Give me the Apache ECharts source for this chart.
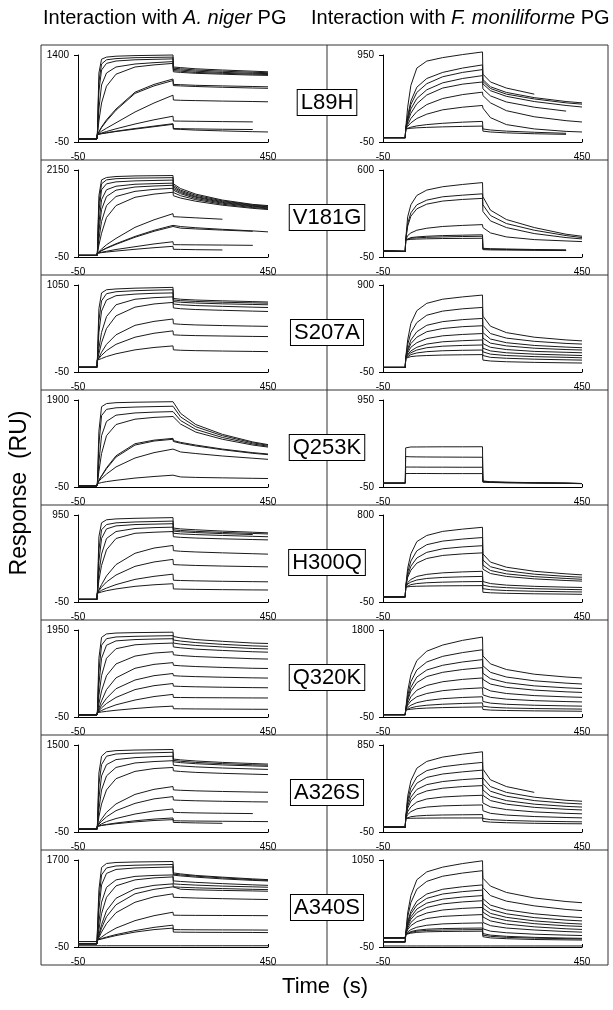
<!DOCTYPE html>
<html>
<head>
<meta charset="utf-8">
<script src="https://cdn.jsdelivr.net/npm/echarts@6/dist/echarts.min.js"></script>
<style>
  html, body { margin: 0; padding: 0; background: #fff; }
  #chart { width: 613px; height: 1010px; }
</style>
</head>
<body>
<div id="chart"></div>
<script>
// sample times (s) for each column; the right column injects a few seconds later
const T_NIGER = [-50, 0, 1, 5, 12, 25, 50, 100, 150, 200, 201, 220, 260, 330, 410, 450];
const T_MONIL = [-50, 6, 7, 12, 20, 35, 60, 100, 150, 200, 201, 220, 260, 330, 410, 450];

const mutants = ['L89H', 'V181G', 'S207A', 'Q253K', 'H300Q', 'Q320K', 'A326S', 'A340S'];
const nigerMax = [1400, 2150, 1050, 1900, 950, 1950, 1500, 1700];
const monilMax = [950, 600, 900, 950, 800, 1800, 850, 1050];

// response (RU) at the times above, one row per curve
const L89H_niger = [
  [0,0,75,1100,1330,1365,1380,1390,1395,1400,1200,1190,1170,1150,1130,1120],
  [0,0,75,950,1250,1320,1340,1355,1360,1365,1180,1170,1150,1130,1112,1105],
  [0,0,75,800,1150,1260,1300,1320,1328,1335,1160,1150,1130,1110,1095,1090],
  [0,0,75,500,900,1100,1200,1250,1272,1290,1140,1130,1110,1095,1080,1075],
  [0,0,75,300,600,880,1080,1200,1235,1260,1120,1110,1095,1080,1065,1060],
  [0,0,75,120,200,320,500,780,910,1000,910,905,895,885,875,870],
  [0,0,75,115,190,300,480,760,885,975,890,885,875,862,850,845],
  [0,0,75,100,130,180,270,450,600,730,650,645,640,632,625,620],
  [0,0,75,85,100,125,170,250,320,380,300,298,295,290,285,null],
  [0,0,75,80,90,105,130,175,215,255,175,172,168,162,158,null],
  [0,0,75,80,88,100,125,165,205,245,165,160,148,135,122,117]
];
const L89H_monil = [
  [0,0,100,350,600,800,880,920,955,985,730,640,570,500,null,null],
  [0,0,100,250,420,580,680,750,800,836,668,585,520,460,415,400],
  [0,0,100,220,380,520,620,700,750,782,645,565,500,445,400,385],
  [0,0,100,200,330,450,550,630,680,713,618,540,475,415,370,352],
  [0,0,100,180,280,390,490,570,615,640,561,480,410,350,305,null],
  [0,0,100,150,220,300,380,450,495,523,484,400,310,240,195,180],
  [0,0,100,130,170,220,270,320,350,370,340,230,150,100,72,65],
  [0,0,100,110,120,135,150,165,178,187,100,88,75,62,50,null],
  [0,0,100,105,108,113,118,124,129,133,75,65,55,45,38,null]
];
const V181G_niger = [
  [-10,-10,45,1500,1900,1960,1985,2000,2005,2010,1800,1680,1540,1390,1280,1250],
  [-10,-10,45,1300,1800,1900,1930,1945,1950,1957,1760,1640,1510,1370,1265,1235],
  [-10,-10,45,1100,1650,1800,1850,1875,1885,1895,1720,1610,1480,1350,1250,1220],
  [-10,-10,45,800,1400,1650,1740,1790,1805,1818,1680,1580,1460,1330,1235,1205],
  [-10,-10,45,600,1150,1480,1640,1720,1745,1764,1640,1550,1430,1310,1220,1190],
  [-10,-10,45,400,850,1250,1480,1610,1660,1687,1580,1500,1400,1285,1200,1170],
  [-10,-10,45,250,550,950,1250,1460,1540,1587,1500,1440,1360,1260,1180,1150],
  [-10,-10,45,90,150,260,420,700,890,1046,970,960,940,905,null,null],
  [-10,-10,45,70,110,170,270,450,600,722,690,680,660,630,600,null],
  [-10,-10,45,72,115,180,285,470,625,750,740,720,690,650,610,585],
  [-10,-10,45,55,70,95,140,210,280,336,262,260,257,252,245,null],
  [-10,-10,45,50,60,75,100,145,185,220,145,142,135,128,null,null]
];
const V181G_monil = [
  [-5,-8,77,250,340,410,450,475,492,506,400,300,230,170,120,105],
  [-5,-8,77,200,280,340,375,400,412,422,340,260,200,150,110,95],
  [-5,-8,77,180,255,310,345,368,380,388,290,220,170,125,95,85],
  [-5,-8,77,110,130,150,165,178,186,192,170,130,100,80,70,65],
  [-5,-8,77,90,95,100,105,110,113,116,15,12,10,6,3,null],
  [-5,-8,77,85,90,93,97,100,103,105,10,8,6,3,0,null],
  [-5,-8,77,80,82,84,86,88,89,90,5,3,2,0,-2,null]
];
const S207A_niger = [
  [10,10,100,750,950,990,1000,1010,1015,1020,880,870,860,850,840,835],
  [10,10,100,600,850,940,965,978,985,990,860,852,842,832,824,820],
  [10,10,100,450,720,860,915,935,945,950,840,832,822,812,804,800],
  [10,10,100,250,450,650,800,870,890,900,810,800,790,780,770,765],
  [10,10,100,180,320,500,660,770,810,830,760,750,740,730,720,715],
  [10,10,100,130,200,300,420,540,590,620,560,553,545,537,530,527],
  [10,10,100,120,160,220,300,390,440,470,420,415,410,405,400,398],
  [10,10,100,105,120,145,180,230,260,280,230,225,220,215,210,208]
];
const S207A_monil = [
  [0,0,100,300,480,620,700,745,770,790,560,450,380,330,300,290],
  [0,0,100,250,380,490,570,615,640,655,460,370,320,285,262,255],
  [0,0,100,200,300,390,460,500,522,535,380,310,270,240,222,215],
  [0,0,100,180,260,330,390,425,445,455,320,265,235,210,195,190],
  [0,0,100,160,220,270,315,345,360,370,260,220,195,175,165,160],
  [0,0,100,140,180,220,255,280,292,300,210,180,160,145,135,130],
  [0,0,100,130,160,190,215,232,240,245,170,145,130,118,110,105],
  [0,0,100,120,140,158,172,182,187,190,130,110,100,90,83,80],
  [0,0,100,110,118,125,130,135,138,140,80,70,62,55,50,48]
];
const Q253K_niger = [
  [-25,-25,25,1200,1750,1820,1840,1850,1856,1862,1830,1600,1350,1130,960,900],
  [-25,-25,25,900,1550,1690,1725,1742,1752,1760,1730,1520,1300,1100,940,885],
  [-25,-25,25,500,1100,1420,1560,1610,1628,1640,1620,1440,1240,1060,915,865],
  [-25,-25,25,300,700,1100,1350,1470,1510,1530,1510,1360,1180,1020,890,845],
  [-25,-25,25,100,200,380,650,920,1000,1040,990,950,890,800,720,690],
  [-25,-25,25,95,190,360,620,890,980,1020,970,930,870,785,705,675],
  [-25,-25,25,80,140,240,400,600,720,800,760,735,700,645,595,570],
  [-25,-25,25,35,50,70,100,150,185,215,180,175,165,155,145,140]
];
const Q253K_monil = [
  [-5,-5,400,408,410,410,411,412,412,413,20,10,5,0,-5,-10],
  [-5,-5,300,298,297,296,295,294,293,292,15,8,3,-2,-6,-10],
  [-5,-5,180,180,179,179,178,178,177,177,10,5,0,-3,-7,-10],
  [-5,-5,105,105,105,105,105,104,104,104,5,2,-2,-5,-8,-12]
];
const H300Q_niger = [
  [-20,-20,50,700,860,895,905,912,916,920,800,790,780,765,752,745],
  [-20,-20,50,550,780,840,860,870,875,880,780,772,762,750,738,732],
  [-20,-20,50,420,680,790,825,840,845,850,765,757,748,736,725,null],
  [-20,-20,50,280,500,680,760,795,805,810,740,733,725,715,705,700],
  [-20,-20,50,200,370,550,680,740,752,760,700,693,685,676,668,664],
  [-20,-20,50,90,150,250,380,510,570,600,540,533,525,515,505,500],
  [-20,-20,50,80,120,180,260,360,410,440,380,376,370,363,357,354],
  [-20,-20,50,65,85,110,150,210,245,270,200,197,193,188,184,182],
  [-20,-20,50,55,65,80,100,130,148,160,100,98,95,92,89,88]
];
const H300Q_monil = [
  [0,0,95,280,420,540,600,640,662,680,420,340,290,250,225,215],
  [0,0,95,240,350,450,510,545,565,580,360,295,255,222,200,192],
  [0,0,95,210,300,380,435,470,488,500,310,258,225,198,180,172],
  [0,0,95,190,260,330,375,405,420,430,270,228,200,176,160,154],
  [0,0,95,140,170,200,220,235,244,250,150,130,115,103,95,92],
  [0,0,95,125,145,165,180,190,196,200,115,100,90,80,73,70],
  [0,0,95,110,120,130,138,144,148,150,80,70,62,55,50,48],
  [0,0,95,100,102,104,106,108,109,110,45,40,35,30,27,25]
];
const Q320K_niger = [
  [0,0,50,1300,1780,1860,1880,1890,1895,1900,1800,1770,1730,1690,1650,1640],
  [0,0,50,1000,1600,1750,1790,1805,1813,1820,1720,1695,1660,1620,1585,1575],
  [0,0,50,700,1300,1600,1700,1730,1742,1750,1650,1625,1595,1560,1525,1515],
  [0,0,50,450,900,1300,1520,1610,1635,1650,1560,1540,1510,1480,1450,1440],
  [0,0,50,250,550,900,1170,1350,1420,1450,1380,1362,1340,1315,1290,1282],
  [0,0,50,150,320,580,850,1070,1160,1200,1140,1127,1110,1090,1070,1065],
  [0,0,50,110,220,380,600,800,900,950,900,890,878,864,850,845],
  [0,0,50,90,160,260,400,580,670,720,660,653,644,634,625,622],
  [0,0,50,70,100,150,230,340,420,470,400,398,395,392,388,387],
  [0,0,50,55,65,80,105,145,178,200,140,138,135,132,128,127]
];
const Q320K_monil = [
  [0,0,100,500,850,1150,1350,1480,1580,1650,1250,1080,960,860,800,780],
  [0,0,100,400,700,950,1120,1240,1320,1380,1040,900,800,720,670,652],
  [0,0,100,340,580,800,950,1050,1120,1170,880,765,680,612,570,555],
  [0,0,100,300,500,680,810,900,960,1000,750,650,580,522,485,472],
  [0,0,100,240,380,520,620,700,750,780,580,505,450,405,378,368],
  [0,0,100,200,290,380,450,510,548,570,420,368,330,298,278,270],
  [0,0,100,150,200,255,300,340,365,380,280,245,220,200,186,181],
  [0,0,100,120,145,175,200,222,238,250,180,158,142,130,122,118],
  [0,0,100,105,115,128,140,150,158,165,110,97,88,80,75,72]
];
const A326S_niger = [
  [0,0,50,1000,1300,1380,1400,1410,1415,1420,1250,1235,1215,1190,1170,1160],
  [0,0,50,800,1150,1300,1340,1355,1362,1370,1225,1210,1190,1168,1148,1140],
  [0,0,50,550,950,1150,1240,1275,1290,1300,1200,1186,1167,1145,1127,1120],
  [0,0,50,350,700,950,1100,1180,1205,1220,1140,1127,1110,1090,1073,1065],
  [0,0,50,220,450,700,900,1030,1080,1100,1040,1028,1012,995,980,973],
  [0,0,50,110,180,300,450,620,710,760,700,693,683,672,662,658],
  [0,0,50,90,140,220,330,460,540,580,520,514,506,497,488,485],
  [0,0,50,70,95,135,190,270,325,360,300,296,290,284,278,null],
  [0,0,50,60,70,85,110,150,180,200,150,148,145,141,137,135],
  [0,0,50,58,65,78,98,130,155,170,120,118,112,105,null,null]
];
const A326S_monil = [
  [0,0,90,320,480,610,680,725,755,780,600,490,420,360,null,null],
  [0,0,90,280,410,520,585,625,650,670,510,420,360,310,278,268],
  [0,0,90,250,360,455,515,550,572,590,450,372,320,275,248,240],
  [0,0,90,220,310,390,440,472,492,505,385,320,275,238,215,208],
  [0,0,90,195,270,335,375,403,420,430,330,275,238,205,185,178],
  [0,0,90,160,210,260,292,312,323,330,250,210,182,158,143,138],
  [0,0,90,130,160,190,208,220,226,230,170,143,125,110,100,96],
  [0,0,90,100,108,116,122,126,128,130,90,78,70,62,57,55],
  [0,0,90,90,92,93,94,95,95,95,60,52,46,40,36,35]
];
const A340S_niger = [
  [60,60,90,1100,1550,1630,1650,1660,1665,1670,1440,1420,1390,1355,1320,1305],
  [60,60,90,900,1400,1540,1580,1595,1602,1610,1415,1400,1375,1340,1305,1290],
  [60,60,90,700,1200,1430,1510,1540,1550,1560,1395,1380,1355,1320,1290,1278],
  [15,15,90,450,850,1150,1300,1370,1390,1400,1280,1268,1250,1225,1200,1190],
  [15,15,90,300,620,950,1180,1300,1340,1360,1220,1210,1195,1175,1160,1152],
  [15,15,90,200,400,680,930,1120,1190,1220,1160,1152,1140,1125,1110,1105],
  [15,15,90,170,330,560,800,1020,1110,1160,1120,1112,1100,1088,1078,1072],
  [15,15,90,140,250,420,640,850,960,1020,950,945,935,922,910,905],
  [15,15,90,110,150,220,330,480,580,650,590,588,586,584,582,580],
  [15,15,90,100,120,150,200,280,345,390,300,298,296,294,292,290],
  [15,15,90,95,110,135,180,250,300,330,250,248,246,244,242,240],
  [-25,-25,-25,-25,-25,-25,-25,-25,-25,-25,-25,-25,-25,-25,-25,-25]
];
const A340S_monil = [
  [65,65,109,380,600,800,900,960,1005,1040,820,720,640,570,525,510],
  [65,65,109,330,510,680,780,845,885,915,700,600,530,470,425,410],
  [65,65,109,270,400,530,620,680,712,735,560,480,420,370,335,322],
  [65,65,109,250,370,480,565,620,650,670,500,425,370,322,290,280],
  [65,65,109,230,330,430,505,555,582,600,440,375,325,280,250,240],
  [65,65,109,215,300,385,450,495,520,535,390,330,285,245,218,210],
  [15,15,109,190,260,330,380,418,438,450,330,280,240,205,180,172],
  [15,15,109,170,220,270,310,337,350,360,260,220,190,165,145,138],
  [15,15,109,140,170,200,225,242,250,255,180,150,130,112,100,95],
  [15,15,109,125,145,162,175,183,187,190,120,100,85,72,63,60],
  [15,15,109,120,135,150,160,165,168,170,100,85,72,62,55,52],
  [15,15,109,115,125,135,142,146,148,150,80,65,55,45,40,38],
  [-37,-37,-37,-37,-37,-37,-37,-37,-37,-37,-37,-37,-37,-37,-37,-37]
];

const nigerPanels = [L89H_niger, V181G_niger, S207A_niger, Q253K_niger, H300Q_niger, Q320K_niger, A326S_niger, A340S_niger];
const monilPanels = [L89H_monil, V181G_monil, S207A_monil, Q253K_monil, H300Q_monil, Q320K_monil, A326S_monil, A340S_monil];

// layout (px)
const FRAME_L = 41, FRAME_R = 608, FRAME_T = 45, ROW_H = 115, MID_X = 327;
const FONT = '"Liberation Sans", Arial, sans-serif';

const chart = echarts.init(document.getElementById('chart'), null, {renderer: 'canvas'});

const grid = [], xAxis = [], yAxis = [], series = [];

function plainNumber(v) {
  return String(v);
}

function addPanel(curves, times, max, row, col) {
  const k = grid.length;
  grid.push({
    left: col ? 383 : 78,
    top: FRAME_T + ROW_H * row + 10,
    width: col ? 199 : 190,
    height: 87
  });
  xAxis.push({
    gridIndex: k, type: 'value', min: -50, max: 450, interval: 500,
    axisLine: {onZero: false, lineStyle: {color: '#000', width: 1}},
    axisTick: {show: true, inside: true, length: 3, lineStyle: {color: '#000'}},
    axisLabel: {margin: 10, fontSize: 10, color: '#000', fontFamily: FONT, formatter: plainNumber},
    splitLine: {show: false}
  });
  yAxis.push({
    gridIndex: k, type: 'value', min: -50, max: max, interval: max + 50,
    axisLine: {show: true, onZero: false, lineStyle: {color: '#000', width: 1}},
    axisTick: {show: true, inside: false, length: 4, lineStyle: {color: '#000'}},
    axisLabel: {margin: 9, fontSize: 10, color: '#000', fontFamily: FONT, formatter: plainNumber},
    splitLine: {show: false}
  });
  curves.forEach(function (c) {
    series.push({
      type: 'line',
      xAxisIndex: k,
      yAxisIndex: k,
      data: times.map(function (t, i) { return [t, c[i]]; }),
      showSymbol: false,
      symbol: 'none',
      silent: true,
      clip: false,
      lineStyle: {color: '#1a1a1a', width: 1}
    });
  });
}

for (let r = 0; r < mutants.length; r++) {
  addPanel(nigerPanels[r], T_NIGER, nigerMax[r], r, 0);
  addPanel(monilPanels[r], T_MONIL, monilMax[r], r, 1);
}

// frame, dividers and mutant labels
const graphics = [];
graphics.push({
  type: 'rect', silent: true,
  shape: {x: FRAME_L, y: FRAME_T, width: FRAME_R - FRAME_L, height: ROW_H * 8},
  style: {fill: 'none', stroke: '#333', lineWidth: 1}
});
graphics.push({
  type: 'line', silent: true,
  shape: {x1: MID_X, y1: FRAME_T, x2: MID_X, y2: FRAME_T + ROW_H * 8},
  style: {stroke: '#333', lineWidth: 1}
});
for (let r = 1; r < 8; r++) {
  graphics.push({
    type: 'line', silent: true,
    shape: {x1: FRAME_L, y1: FRAME_T + ROW_H * r, x2: FRAME_R, y2: FRAME_T + ROW_H * r},
    style: {stroke: '#333', lineWidth: 1}
  });
}
mutants.forEach(function (m, r) {
  graphics.push({
    type: 'text', silent: true, z: 10,
    x: MID_X, y: FRAME_T + ROW_H * r + ROW_H / 2,
    style: {
      text: m, fill: '#000', fontSize: 22, fontFamily: FONT,
      align: 'center', verticalAlign: 'middle',
      backgroundColor: '#fff', borderColor: '#000', borderWidth: 1,
      padding: [2, 3, 1, 3]
    }
  });
});

// column titles and axis names
graphics.push({
  type: 'text', silent: true, x: 43, y: 18,
  style: {
    text: 'Interaction with {i|A. niger} PG', fill: '#000',
    fontSize: 20, fontFamily: FONT, verticalAlign: 'middle',
    rich: {i: {fontStyle: 'italic', fontSize: 20, fontFamily: FONT}}
  }
});
graphics.push({
  type: 'text', silent: true, x: 311, y: 18,
  style: {
    text: 'Interaction with {i|F. moniliforme} PG', fill: '#000',
    fontSize: 20, fontFamily: FONT, verticalAlign: 'middle',
    rich: {i: {fontStyle: 'italic', fontSize: 20, fontFamily: FONT}}
  }
});
graphics.push({
  type: 'text', silent: true, x: 20, y: 493, rotation: Math.PI / 2,
  style: {text: 'Response  (RU)', fill: '#000', fontSize: 23, fontFamily: FONT, align: 'center', verticalAlign: 'middle'}
});
graphics.push({
  type: 'text', silent: true, x: 325, y: 987,
  style: {text: 'Time  (s)', fill: '#000', fontSize: 22, fontFamily: FONT, align: 'center', verticalAlign: 'middle'}
});

chart.setOption({
  animation: false,
  backgroundColor: '#fff',
  grid: grid,
  xAxis: xAxis,
  yAxis: yAxis,
  series: series,
  graphic: graphics
});
</script>
</body>
</html>
